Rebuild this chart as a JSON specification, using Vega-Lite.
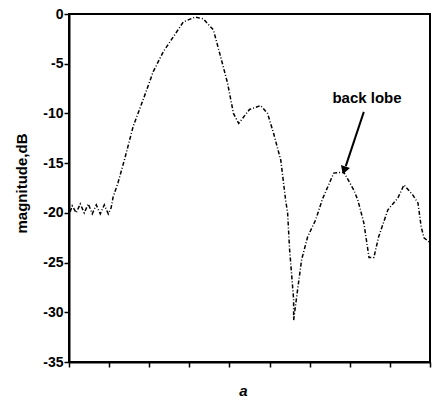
{
  "$schema": "https://vega.github.io/schema/vega-lite/v6.json",
  "width": 361,
  "height": 348,
  "autosize": {"type": "none"},
  "padding": {"left": 69, "top": 14, "right": 3, "bottom": 38},
  "background": "white",
  "config": {
    "view": {"stroke": "black", "strokeWidth": 2},
    "font": "Liberation Sans"
  },
  "datasets": {
    "curve": [
      {"a": 0.03, "dB": -19.9},
      {"a": 0.08, "dB": -19.3},
      {"a": 0.18, "dB": -20.0},
      {"a": 0.28, "dB": -19.1},
      {"a": 0.38, "dB": -20.0},
      {"a": 0.48, "dB": -19.1},
      {"a": 0.58, "dB": -20.1},
      {"a": 0.68, "dB": -19.2},
      {"a": 0.78, "dB": -20.1},
      {"a": 0.88, "dB": -19.2},
      {"a": 0.98, "dB": -20.1},
      {"a": 1.05, "dB": -19.5},
      {"a": 1.1, "dB": -18.4},
      {"a": 1.22, "dB": -17.0},
      {"a": 1.4, "dB": -14.4},
      {"a": 1.6, "dB": -11.3},
      {"a": 1.85, "dB": -8.6},
      {"a": 2.1, "dB": -5.8},
      {"a": 2.35, "dB": -3.8},
      {"a": 2.6, "dB": -2.3},
      {"a": 2.85, "dB": -0.8},
      {"a": 3.15, "dB": -0.3},
      {"a": 3.35, "dB": -0.5},
      {"a": 3.6, "dB": -1.6},
      {"a": 3.78, "dB": -4.3},
      {"a": 3.95, "dB": -6.9},
      {"a": 4.1, "dB": -10.0},
      {"a": 4.23, "dB": -11.0},
      {"a": 4.5, "dB": -9.6},
      {"a": 4.78, "dB": -9.2},
      {"a": 4.95, "dB": -10.0},
      {"a": 5.1, "dB": -12.0},
      {"a": 5.28, "dB": -14.7},
      {"a": 5.4, "dB": -18.7},
      {"a": 5.45, "dB": -20.0},
      {"a": 5.5, "dB": -23.7},
      {"a": 5.6, "dB": -28.7},
      {"a": 5.6, "dB": -30.8},
      {"a": 5.7, "dB": -27.7},
      {"a": 5.8, "dB": -24.7},
      {"a": 5.95, "dB": -22.4},
      {"a": 6.15, "dB": -20.7},
      {"a": 6.32, "dB": -18.6},
      {"a": 6.6, "dB": -16.0},
      {"a": 6.85, "dB": -15.9},
      {"a": 7.1, "dB": -17.7},
      {"a": 7.2, "dB": -18.7},
      {"a": 7.35, "dB": -21.0},
      {"a": 7.48, "dB": -24.5},
      {"a": 7.6, "dB": -24.5},
      {"a": 7.72, "dB": -22.4},
      {"a": 7.95, "dB": -19.7},
      {"a": 8.2, "dB": -18.5},
      {"a": 8.35, "dB": -17.2},
      {"a": 8.57, "dB": -18.2},
      {"a": 8.7, "dB": -19.0},
      {"a": 8.78, "dB": -21.4},
      {"a": 8.85, "dB": -22.5},
      {"a": 9.0, "dB": -23.0}
    ],
    "arrow": [{"x1": 7.35, "y1": -9.85, "x2": 6.9, "y2": -15.3, "tx": 6.87, "ty": -15.6, "label": "back lobe", "lx": 7.43, "ly": -8.45}]
  },
  "layer": [
    {
      "data": {"name": "curve"},
      "mark": {"type": "line", "color": "black", "strokeWidth": 1.5, "strokeDash": [4, 2, 1, 2]},
      "encoding": {
        "x": {
          "field": "a", "type": "quantitative",
          "scale": {"domain": [0, 9], "nice": false, "zero": false},
          "axis": {
            "title": "a", "values": [0, 1, 2, 3, 4, 5, 6, 7, 8, 9], "labels": false, "grid": false,
            "domainColor": "black", "domainWidth": 2, "tickColor": "black", "tickWidth": 1.5, "tickSize": 5,
            "titleFont": "Liberation Sans", "titleFontStyle": "italic", "titleFontWeight": "bold", "titleFontSize": 15,
            "titleColor": "black", "titleX": 174, "titleY": 33, "titleAlign": "center", "titleBaseline": "alphabetic"
          }
        },
        "y": {
          "field": "dB", "type": "quantitative",
          "scale": {"domain": [-35, 0], "nice": false},
          "axis": {
            "title": "magnitude,dB", "values": [0, -5, -10, -15, -20, -25, -30, -35], "grid": false,
            "labelExpr": "datum.value == 0 ? '0' : '-' + abs(datum.value)",
            "domainColor": "black", "domainWidth": 2, "tickColor": "black", "tickWidth": 1.5, "tickSize": 5,
            "labelFont": "Liberation Sans", "labelFontWeight": "bold", "labelFontSize": 14, "labelColor": "black", "labelPadding": 1,
            "titleFont": "Liberation Sans", "titleFontWeight": "bold", "titleFontSize": 15, "titleColor": "black",
            "titleX": -48, "titleY": 169, "titleAngle": -90, "titleAlign": "center", "titleBaseline": "middle"
          }
        }
      }
    },
    {
      "data": {"name": "arrow"},
      "mark": {"type": "rule", "color": "black", "strokeWidth": 2},
      "encoding": {
        "x": {"field": "x1", "type": "quantitative"},
        "y": {"field": "y1", "type": "quantitative"},
        "x2": {"field": "x2"},
        "y2": {"field": "y2"}
      }
    },
    {
      "data": {"name": "arrow"},
      "mark": {"type": "point", "shape": "triangle", "filled": true, "color": "black", "size": 90, "angle": 198, "opacity": 1},
      "encoding": {
        "x": {"field": "tx", "type": "quantitative"},
        "y": {"field": "ty", "type": "quantitative"}
      }
    },
    {
      "data": {"name": "arrow"},
      "mark": {"type": "text", "font": "Liberation Sans", "fontWeight": "bold", "fontSize": 15, "color": "black", "align": "center", "baseline": "middle"},
      "encoding": {
        "x": {"field": "lx", "type": "quantitative"},
        "y": {"field": "ly", "type": "quantitative"},
        "text": {"field": "label"}
      }
    }
  ]
}
